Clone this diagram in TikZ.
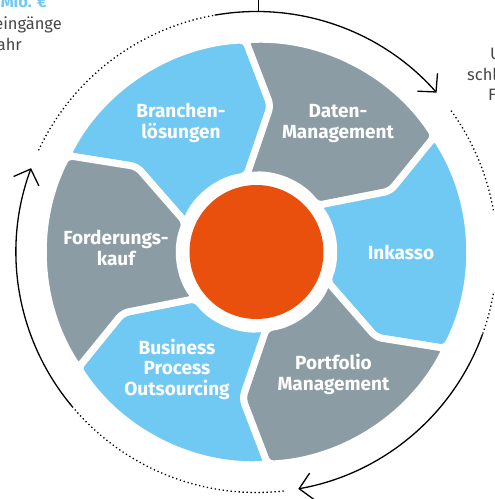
\documentclass[tikz,border=0pt]{standalone}
\usepackage{fontspec}
\setmainfont{Fira Sans}
\usepackage{tikz}
\usetikzlibrary{arrows.meta}

\definecolor{segblue}{RGB}{112,201,243}
\definecolor{seggray}{RGB}{140,156,164}
\definecolor{hubred}{RGB}{233,80,14}
\definecolor{sidegray}{RGB}{70,70,70}

\begin{document}
\begin{tikzpicture}[x=1pt,y=1pt,
    seg/.style={draw=white,line width=7pt,rounded corners=6pt},
    seglabel/.style={text=white,align=center,font=\fontsize{19}{20.5}\selectfont\bfseries},
    sidetext/.style={text=sidegray,inner sep=0pt,font=\fontsize{16.5}{20.5}\selectfont},
    sidebold/.style={text=segblue,inner sep=0pt,font=\fontsize{16.5}{20.5}\selectfont\bfseries},
    ring/.style={line width=1.3pt},
    ringdots/.style={line width=1.3pt,dash pattern=on 1.3pt off 2.7pt},
    ringarrow/.style={ring,-{Straight Barb[length=13pt,width=27pt]}}]
    \useasboundingbox (-256.5,-247) rectangle (238.5,252);
    \clip (-256.5,-247) rectangle (238.5,252);
    % six segments, clockwise from Branchenloesungen
    \foreach \b/\col in {153/segblue,93/seggray,33/segblue,-27/seggray,-87/segblue,-147/seggray}
        \fill[seg,fill=\col] (\b:212.5) arc[start angle=\b,end angle=\b-60,radius=212.5]
            -- (\b-68.5:147) -- (\b-55.5:76.5)
            arc[start angle=\b-55.5,end angle=\b+4.5,radius=76.5]
            -- (\b-8.5:147) -- cycle;
    \node[circle,fill=hubred,minimum size=134pt,inner sep=0pt] (hub) at (0,0) {};
    \node[seglabel] (branchen) at (-75.5,129) {Branchen-\\lösungen};
    \node[seglabel] (daten) at (81.5,128.5) {Daten-\\Management};
    \node[seglabel] (inkasso) at (144.5,0) {Inkasso};
    \node[seglabel] (portfolio) at (77,-122.5) {Portfolio\\Management};
    \node[seglabel] (bpo) at (-79.5,-117) {Business\\Process\\Outsourcing};
    \node[seglabel] (forderung) at (-140.5,4) {Forderungs-\\kauf};
    % outer ring
    \draw[ringarrow] (100:240.5) arc[start angle=100,end angle=41.5,radius=240.5];
    \draw[ringdots] (36:240.5) arc[start angle=36,end angle=10,radius=240.5];
    \draw[ringdots] (-10:240.5) arc[start angle=-10,end angle=-20,radius=240.5];
    \draw[ringarrow] (-20:240.5) arc[start angle=-20,end angle=-80,radius=240.5];
    \draw[ringdots] (-83.5:240.5) arc[start angle=-83.5,end angle=-140,radius=240.5];
    \draw[ringarrow] (-140:240.5) arc[start angle=-140,end angle=-200.4,radius=240.5];
    \draw[ringdots] (155:240.5) arc[start angle=155,end angle=100,radius=240.5];
    \coordinate (tick) at (89.6:240.5);
    \draw[ring] (tick) -- ++(0,14);
    % side texts
    \node[sidebold,anchor=base east] (mio) at (-209.5,244.7) {Mio. €};
    \node[sidetext,anchor=base east] (eing) at (-194.5,222.7) {eingänge};
    \node[sidetext,anchor=base east] (jahr) at (-234.5,202) {ahr};
    \node[sidetext,anchor=base west] (u) at (233.5,192.5) {U};
    \node[sidetext,anchor=base west] (schl) at (210.5,172) {schl};
    \node[sidetext,anchor=base west] (f) at (231.5,151.3) {F};
\end{tikzpicture}
\end{document}
